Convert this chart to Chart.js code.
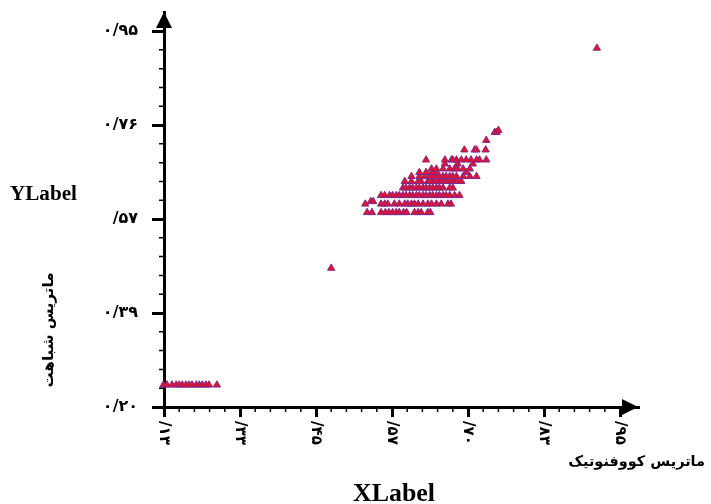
<!DOCTYPE html>
<html><head><meta charset="utf-8">
<script src="https://cdn.jsdelivr.net/npm/chart.js@4"></script>
<style>html,body{margin:0;padding:0;background:#fff}canvas{display:block}</style>
</head><body>
<canvas id="c" width="711" height="504"></canvas>
<script>
// ---- tick values / labels ----
const xTickValues = [0.20, 0.325, 0.45, 0.575, 0.70, 0.825, 0.95];
const xTickLabels = ['/۱۳', '/۳۳', '/۴۵', '/۵۷', '/۷۰', '/۸۳', '/۹۵'];
const yTickValues = [0.20, 0.3875, 0.575, 0.7625, 0.95];
const yTickLabels = ['۰/۲۰', '۰/۳۹', '/۵۷', '۰/۷۶', '۰/۹۵'];
const xMinorStep = 0.025;
const yMinorStep = 0.0375;

// ---- titles ----
const xTitle = 'XLabel';
const xTitleFa = 'ماتریس کووفنوتیک';
const yTitle = 'YLabel';
const yTitleFa = 'ماتریس شباهت';

// ---- data (rows of points sharing the same y value) ----
const rowYValues = [0.244, 0.477, 0.588, 0.605, 0.610, 0.622, 0.637, 0.650, 0.660, 0.668, 0.675, 0.685, 0.693, 0.713, 0.732, 0.748, 0.752, 0.916];
const rowXValues = [
  [0.199, 0.205, 0.213, 0.220, 0.225, 0.230, 0.236, 0.241, 0.246, 0.253, 0.258, 0.263, 0.269, 0.274, 0.287],
  [0.475],
  [0.534, 0.542, 0.557, 0.564, 0.570, 0.576, 0.582, 0.587, 0.594, 0.599, 0.612, 0.618, 0.623, 0.634, 0.638],
  [0.531, 0.557, 0.563, 0.568, 0.579, 0.587, 0.596, 0.601, 0.607, 0.612, 0.618, 0.626, 0.634, 0.640, 0.648, 0.656, 0.667, 0.672],
  [0.540, 0.544],
  [0.557, 0.563, 0.571, 0.576, 0.582, 0.587, 0.593, 0.598, 0.604, 0.609, 0.615, 0.620, 0.626, 0.631, 0.637, 0.642, 0.648, 0.653, 0.659, 0.664, 0.670, 0.678, 0.686],
  [0.593, 0.598, 0.604, 0.609, 0.615, 0.620, 0.626, 0.631, 0.637, 0.642, 0.648, 0.653, 0.659, 0.670, 0.675],
  [0.596, 0.607, 0.618, 0.623, 0.634, 0.640, 0.645, 0.651, 0.656, 0.662, 0.667, 0.673, 0.678, 0.683, 0.689],
  [0.607, 0.620, 0.629, 0.637, 0.642, 0.648, 0.653, 0.659, 0.664, 0.670, 0.675, 0.681, 0.692, 0.703, 0.714],
  [0.620, 0.631, 0.641, 0.648, 0.697],
  [0.640, 0.648, 0.659, 0.670, 0.678, 0.683, 0.692, 0.703],
  [0.662, 0.683, 0.708],
  [0.631, 0.662, 0.673, 0.675, 0.681, 0.689, 0.697, 0.705, 0.714, 0.719, 0.730],
  [0.694, 0.711, 0.714, 0.729],
  [0.730],
  [0.744, 0.747],
  [0.750],
  [0.912]
];

const points = [];
rowXValues.forEach((xs, i) => xs.forEach(x => points.push({ x: x, y: rowYValues[i] })));

const FA_FONT = '"DejaVu Sans"';
const LAT_FONT = '"Liberation Serif", "DejaVu Serif", serif';

function fitSize(ctx, text, target, family) {
  ctx.font = 'bold 20px ' + family;
  const w = ctx.measureText(text).width;
  return 20 * target / w;
}

const decor = {
  id: 'decor',
  afterDraw(chart) {
    const ctx = chart.ctx;
    const xs = chart.scales.x, ys = chart.scales.y;
    const area = chart.chartArea;
    const ax = area.left, ay = area.bottom;
    ctx.save();
    ctx.strokeStyle = '#000';
    ctx.fillStyle = '#000';
    // minor ticks
    ctx.lineWidth = 1.5;
    ctx.beginPath();
    for (let k = 1; k < 30; k++) {
      if (k % 5 === 0) continue;
      const px = xs.getPixelForValue(0.20 + k * xMinorStep);
      ctx.moveTo(px, ay); ctx.lineTo(px, ay + 5);
    }
    for (let k = 1; k < 20; k++) {
      if (k % 5 === 0) continue;
      const py = ys.getPixelForValue(0.20 + k * yMinorStep);
      ctx.moveTo(ax - 5, py); ctx.lineTo(ax, py);
    }
    ctx.stroke();
    // arrows
    ctx.beginPath();
    ctx.moveTo(ax, area.top);
    ctx.lineTo(ax - 8, area.top + 16);
    ctx.lineTo(ax + 8, area.top + 16);
    ctx.closePath();
    ctx.fill();
    ctx.beginPath();
    ctx.moveTo(area.right, ay);
    ctx.lineTo(area.right - 16, ay - 8);
    ctx.lineTo(area.right - 16, ay + 8);
    ctx.closePath();
    ctx.fill();
    // x tick labels (rotated clockwise)
    ctx.font = 'bold 15px ' + FA_FONT;
    ctx.textAlign = 'left';
    ctx.textBaseline = 'middle';
    xTickValues.forEach((v, i) => {
      const px = xs.getPixelForValue(v);
      ctx.save();
      ctx.translate(px, ay + 14);
      ctx.rotate(Math.PI / 2);
      ctx.fillText(xTickLabels[i], 0, 0);
      ctx.restore();
    });
    // titles
    ctx.textAlign = 'left';
    ctx.textBaseline = 'middle';
    ctx.font = 'bold ' + fitSize(ctx, yTitle, 67, LAT_FONT) + 'px ' + LAT_FONT;
    ctx.fillText(yTitle, 10, 195);
    ctx.textAlign = 'center';
    ctx.font = 'bold ' + fitSize(ctx, xTitle, 82, LAT_FONT) + 'px ' + LAT_FONT;
    ctx.fillText(xTitle, 394, 494);
    ctx.textAlign = 'right';
    ctx.font = 'bold ' + fitSize(ctx, xTitleFa, 137, FA_FONT) + 'px ' + FA_FONT;
    ctx.fillText(xTitleFa, 705, 462);
    ctx.save();
    ctx.translate(49, 330);
    ctx.rotate(-Math.PI / 2);
    ctx.textAlign = 'center';
    ctx.font = 'bold ' + fitSize(ctx, yTitleFa, 115, FA_FONT) + 'px ' + FA_FONT;
    ctx.fillText(yTitleFa, 0, 0);
    ctx.restore();
    ctx.restore();
  }
};

new Chart(document.getElementById('c'), {
  type: 'scatter',
  data: {
    datasets: [{
      data: points,
      pointStyle: 'triangle',
      pointRadius: 4.2,
      pointHoverRadius: 4.2,
      backgroundColor: '#ec0f25',
      borderColor: '#7a2a90',
      borderWidth: 1,
      clip: false
    }]
  },
  options: {
    responsive: false,
    devicePixelRatio: 1,
    animation: false,
    events: [],
    layout: { padding: { left: 0, right: 73, top: 12, bottom: 0 } },
    plugins: { legend: { display: false }, tooltip: { enabled: false } },
    scales: {
      x: {
        type: 'linear',
        position: 'bottom',
        min: 0.20,
        max: 0.9796,
        afterBuildTicks: s => { s.ticks = xTickValues.map(v => ({ value: v })); },
        afterFit: s => { s.height = 97; s.paddingLeft = 0; s.paddingRight = 0; },
        ticks: { display: false },
        grid: { display: true, drawOnChartArea: false, drawTicks: true, tickLength: 10, tickWidth: 3, tickColor: '#000', color: '#000', lineWidth: 3 },
        border: { display: true, color: '#000', width: 3 }
      },
      y: {
        type: 'linear',
        position: 'left',
        min: 0.20,
        max: 0.988,
        afterBuildTicks: s => { s.ticks = yTickValues.map(v => ({ value: v })); },
        afterFit: s => { s.width = 164; s.paddingTop = 0; s.paddingBottom = 0; },
        ticks: {
          display: true,
          color: '#000',
          padding: 14,
          font: { family: 'DejaVu Sans', size: 16, weight: 'bold' },
          callback: (v, i) => yTickLabels[i]
        },
        grid: { display: true, drawOnChartArea: false, drawTicks: true, tickLength: 12, tickWidth: 3, tickColor: '#000', color: '#000', lineWidth: 3 },
        border: { display: true, color: '#000', width: 3 }
      }
    }
  },
  plugins: [decor]
});
</script>
</body></html>
